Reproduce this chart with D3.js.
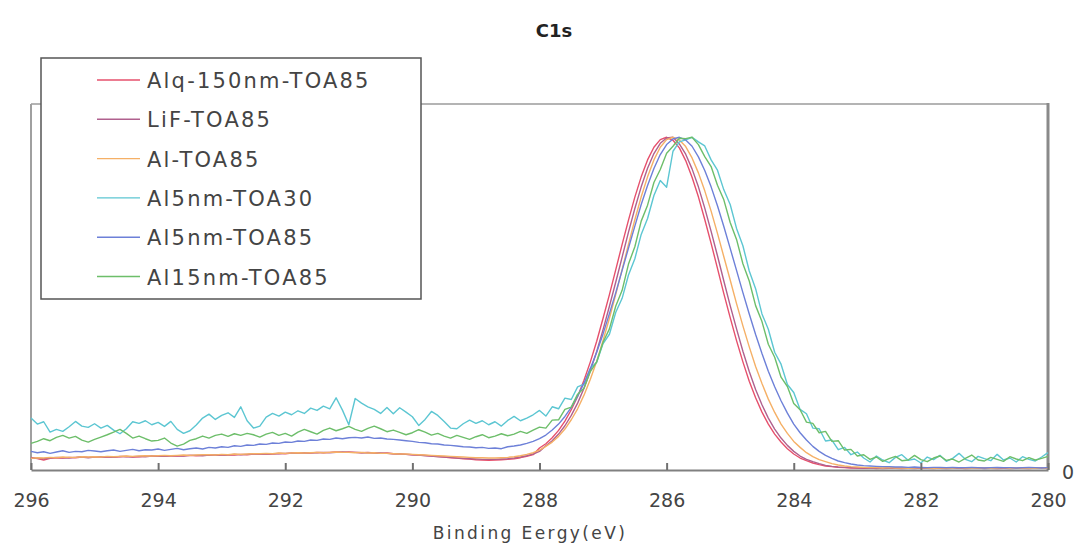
<!DOCTYPE html>
<html>
<head>
<meta charset="utf-8">
<script src="https://cdn.jsdelivr.net/npm/d3@7"></script>
<style>
  body { margin: 0; background: #fff; }
  svg { display: block; }
</style>
</head>
<body>
<svg id="chart"></svg>
<script>
// C1s spectra, intensity normalised to peak = 100, sampled every 0.1 eV from 296 eV down to 280 eV
const energyStart = 296
const energyStep = 0.1
const xTicks = [296, 294, 292, 290, 288, 286, 284, 282, 280]

const seriesNames = ['Alq-150nm-TOA85', 'LiF-TOA85', 'Al-TOA85', 'Al5nm-TOA30', 'Al5nm-TOA85', 'Al15nm-TOA85']
const seriesColors = ['#e6506c', '#b0608e', '#f5b066', '#5cc6d2', '#6d80d8', '#6dbe6a']

const alq150 = [
  3.8, 3.4, 3.0, 3.5, 3.7, 3.6, 3.8, 3.7, 3.9, 3.8,
  3.8, 4.0, 3.9, 3.9, 4.0, 4.1, 3.9, 4.0, 4.1, 4.2,
  4.1, 4.2, 4.3, 4.2, 4.3, 4.4, 4.3, 4.4, 4.5, 4.4,
  4.5, 4.6, 4.5, 4.7, 4.6, 4.8, 4.7, 4.9, 4.8, 5.0,
  4.9, 5.1, 5.0, 5.2, 5.1, 5.3, 5.2, 5.3, 5.4, 5.3,
  5.4, 5.3, 5.2, 5.3, 5.1, 5.0, 5.1, 4.9, 4.8, 4.7,
  4.6, 4.5, 4.4, 4.2, 4.1, 3.9, 3.7, 3.6, 3.4, 3.3,
  3.1, 3.0, 2.9, 3.0, 3.1, 3.2, 3.4, 3.7, 4.1, 4.6,
  6.6, 7.9, 9.7, 11.9, 14.7, 18.1, 22.1, 27.0, 32.5, 38.7,
  45.6, 52.7, 60.2, 67.8, 75.1, 82.0, 88.1, 93.2, 97.0, 99.3,
  100, 99.1, 96.8, 93.0, 88.0, 82.1, 75.3, 68.1, 60.6, 53.0,
  45.8, 38.9, 32.5, 26.7, 21.7, 17.4, 13.8, 10.8, 8.4, 6.4,
  4.8, 3.6, 2.8, 2.1, 1.6, 1.2, 1.0, 0.8, 0.7, 0.6,
  0.6,
  0.5, 0.6, 0.4, 0.5, 0.6, 0.5, 0.4, 0.5, 0.6, 0.5,
  0.5, 0.4, 0.6, 0.5, 0.5, 0.6, 0.4, 0.5, 0.5, 0.6,
  0.5, 0.4, 0.5, 0.6, 0.5, 0.5, 0.4, 0.6, 0.5, 0.5
]

const lif = [
  3.6, 3.5, 3.4, 3.6, 3.8, 3.7, 3.6, 3.8, 3.9, 3.7,
  3.9, 3.9, 4.0, 3.8, 4.1, 4.0, 4.0, 4.1, 4.0, 4.2,
  4.2, 4.1, 4.3, 4.3, 4.2, 4.4, 4.4, 4.3, 4.5, 4.5,
  4.6, 4.5, 4.7, 4.6, 4.7, 4.8, 4.8, 4.8, 4.9, 4.9,
  5.0, 5.0, 5.1, 5.1, 5.2, 5.2, 5.3, 5.2, 5.3, 5.4,
  5.3, 5.3, 5.2, 5.2, 5.1, 5.1, 5.0, 4.9, 4.8, 4.7,
  4.6, 4.5, 4.3, 4.2, 4.0, 3.9, 3.8, 3.6, 3.5, 3.4,
  3.3, 3.2, 3.2, 3.2, 3.3, 3.4, 3.6, 3.9, 4.3, 4.8,
  5.6, 7.3, 8.8, 10.8, 13.3, 16.4, 20.1, 24.6, 29.8, 35.6,
  42.2, 49.2, 56.5, 64.0, 71.5, 78.6, 85.1, 90.7, 95.1, 98.2,
  99.8, 100, 98.0, 94.9, 90.5, 85.1, 78.7, 71.7, 64.4, 56.8,
  49.4, 42.4, 35.7, 29.6, 24.2, 19.6, 15.6, 12.3, 9.6, 7.4,
  5.6, 4.2, 3.2, 2.5, 1.9, 1.4, 1.1, 0.9, 0.8, 0.7,
  0.6,
  0.6, 0.5, 0.6, 0.4, 0.5, 0.6, 0.6, 0.5, 0.4, 0.6,
  0.5, 0.6, 0.5, 0.4, 0.5, 0.6, 0.5, 0.5, 0.6, 0.4,
  0.5, 0.6, 0.5, 0.4, 0.5, 0.6, 0.5, 0.5, 0.6, 0.5
]

const al = [
  3.5, 3.7, 3.6, 3.8, 3.7, 3.9, 3.8, 3.8, 4.0, 3.9,
  4.0, 3.9, 4.1, 4.0, 4.1, 4.2, 4.1, 4.2, 4.3, 4.2,
  4.3, 4.4, 4.3, 4.4, 4.5, 4.4, 4.5, 4.6, 4.6, 4.5,
  4.7, 4.6, 4.8, 4.7, 4.8, 4.9, 4.9, 5.0, 4.9, 5.1,
  5.0, 5.1, 5.2, 5.1, 5.2, 5.3, 5.2, 5.3, 5.4, 5.3,
  5.3, 5.2, 5.3, 5.1, 5.2, 5.0, 5.0, 4.9, 4.8, 4.8,
  4.7, 4.6, 4.5, 4.4, 4.3, 4.2, 4.1, 4.0, 3.9, 3.8,
  3.7, 3.7, 3.6, 3.6, 3.7, 3.8, 4.0, 4.3, 4.7, 5.2,
  6.0, 7.1, 8.4, 10.1, 12.3, 15.1, 18.4, 22.5, 27.3, 32.7,
  38.9, 45.6, 52.8, 60.3, 67.8, 75.2, 82.1, 88.1, 93.2, 97.0,
  99.3, 100, 99.2, 97.2, 93.8, 89.3, 83.9, 77.8, 71.1, 64.1,
  57.1, 50.0, 43.3, 37.0, 31.1, 26.0, 21.3, 17.3, 13.8, 11.0,
  8.6, 6.8, 5.2, 4.0, 3.1, 2.5, 1.9, 1.5, 1.2, 1.0,
  0.9,
  0.8, 0.7, 0.7, 0.6, 0.7, 0.6, 0.6, 0.5, 0.6, 0.7,
  0.6, 0.5, 0.6, 0.6, 0.5, 0.7, 0.6, 0.5, 0.6, 0.6,
  0.5, 0.6, 0.7, 0.5, 0.6, 0.6, 0.5, 0.6, 0.5, 0.6
]

const al5nm30 = [
  15.6, 13.8, 14.5, 11.4, 12.2, 11.6, 13.0, 14.6, 13.2, 12.8,
  13.9, 12.6, 13.4, 12.0, 10.9, 12.4, 14.5, 14.0, 14.8, 13.6,
  14.3, 13.1, 14.6, 12.2, 11.0, 11.8, 13.5, 15.6, 16.8, 15.2,
  16.4, 17.2, 15.8, 19.0, 14.8, 12.6, 13.2, 15.9, 17.0, 16.2,
  17.4, 16.6, 17.8, 17.0, 18.6, 17.9, 19.2, 18.4, 21.7, 18.0,
  13.6, 21.5, 20.1, 19.0, 18.2, 17.0, 18.8, 16.9, 18.7, 17.4,
  16.0, 13.4, 15.2, 17.6, 16.4, 14.6, 12.6, 12.4, 13.9, 15.0,
  14.0, 14.8, 13.6, 14.5, 13.2, 14.9, 16.1, 14.8, 15.6, 16.6,
  17.9, 16.2, 19.0, 18.4, 21.6, 21.2, 25.0, 25.8, 30.6, 32.4,
  38.0, 40.8, 47.4, 51.6, 58.6, 63.5, 70.8, 75.6, 82.5, 87.0,
  85.0, 95.8, 98.6, 99.2, 100, 98.6, 97.4, 93.2, 90.1, 84.2,
  79.8, 72.6, 67.4, 59.8, 54.5, 46.9, 42.3, 35.4, 31.8, 25.7,
  23.3, 18.2, 16.9, 12.6, 12.4, 8.7, 9.0, 6.1, 6.8, 4.6,
  5.4,
  3.6, 2.4, 4.2, 3.0, 2.2, 3.8, 4.6, 2.9, 3.3, 2.1,
  3.9, 3.1, 4.4, 2.6, 3.5, 5.0, 3.2, 2.5, 4.1, 3.4,
  2.8, 4.7, 3.0, 3.6, 2.4, 4.0, 3.2, 2.7, 3.9, 5.2
]

const al5nm85 = [
  5.6, 5.2, 5.5, 5.0, 5.4, 5.8, 5.3, 5.6, 5.5, 5.9,
  5.7, 5.5, 5.8, 6.0, 5.6, 5.9, 6.2, 5.8, 6.1, 6.0,
  6.3, 5.9, 6.2, 6.5, 6.1, 6.4, 6.6, 6.3, 6.8, 6.6,
  7.0, 6.8, 7.3, 7.1, 7.5, 7.4, 7.8, 7.7, 8.1, 8.0,
  8.4, 8.3, 8.7, 8.6, 9.0, 8.9, 9.3, 9.2, 9.6, 9.4,
  9.7, 9.8, 9.6, 9.9, 9.5, 9.6, 9.3, 9.2, 9.0, 8.8,
  8.6, 8.3, 8.2, 7.9, 7.8, 7.5, 7.4, 7.2, 7.0, 6.9,
  6.7, 6.8, 6.5, 6.6, 6.4, 7.0, 7.2, 7.5, 8.0, 8.6,
  9.4, 10.5, 12.0, 13.8, 16.1, 18.8, 22.2, 26.1, 30.5, 35.4,
  40.9, 47.0, 53.3, 60.0, 66.7, 73.3, 79.8, 85.5, 90.6, 94.8,
  97.8, 99.5, 100, 99.2, 97.3, 94.1, 90.0, 85.1, 79.4, 73.2,
  66.6, 60.0, 53.3, 46.9, 40.7, 35.0, 29.7, 25.0, 20.8, 17.1,
  13.8, 11.2, 9.0, 7.1, 5.6, 4.4, 3.5, 2.7, 2.2, 1.8,
  1.5,
  1.3, 1.2, 1.1, 1.0, 1.0, 0.9, 0.9, 0.8, 0.9, 0.8,
  0.7, 0.8, 0.8, 0.7, 0.8, 0.7, 0.7, 0.8, 0.7, 0.6,
  0.7, 0.8, 0.7, 0.7, 0.6, 0.7, 0.8, 0.7, 0.6, 0.7
]

const al15nm85 = [
  8.0, 8.6, 9.4, 8.8, 9.8, 10.4, 9.6, 10.1, 9.0, 8.4,
  9.2, 9.9, 10.6, 11.4, 12.2, 11.0, 9.6, 10.2, 9.4, 8.7,
  8.9, 9.6, 8.1, 7.2, 7.8, 8.9, 9.4, 10.2, 9.6, 10.4,
  10.8, 10.1, 10.9, 10.4, 11.0, 10.6, 9.9, 10.8, 11.3, 10.4,
  11.0, 10.2, 11.4, 12.2, 11.5, 10.8, 11.9, 12.6, 11.8, 12.4,
  13.1, 12.2, 11.6, 12.5, 13.2, 12.4, 11.5, 12.0, 11.3, 10.6,
  11.2, 12.1, 11.4, 10.5, 11.0, 10.2, 9.6, 10.4, 9.8, 9.2,
  10.0, 10.6, 9.7, 10.2, 10.9, 10.3, 10.8, 11.6, 11.0, 12.0,
  12.9, 12.6, 15.0, 15.1, 18.2, 18.9, 22.8, 24.6, 29.6, 32.5,
  38.4, 42.4, 49.3, 54.0, 61.9, 67.1, 74.8, 79.6, 86.4, 90.3,
  95.2, 97.3, 99.7, 99.6, 100, 97.8, 94.2, 91.2, 85.6, 81.2,
  74.4, 69.3, 62.0, 56.8, 49.4, 44.6, 37.8, 33.9, 27.9, 25.1,
  20.0, 18.1, 14.4, 14.0, 11.2, 11.6, 8.6, 8.8, 6.0, 6.2,
  4.2,
  4.6, 3.2, 3.9, 2.6, 3.4, 4.1, 2.8, 3.0, 4.4, 3.1,
  2.5, 3.6, 4.2, 2.9, 3.3, 2.4, 3.5, 4.5, 3.0, 2.7,
  3.8, 3.2, 2.6, 4.0, 3.3, 2.8, 3.7, 3.0, 3.5, 4.1
]

const seriesValues = [alq150, lif, al, al5nm30, al5nm85, al15nm85]

const width = 1079
const height = 545
const plot = { left: 31, right: 1048, top: 104, bottom: 470 }

const svg = d3.select('#chart')
    .attr('width', width)
    .attr('height', height)
    .style('font-family', '"DejaVu Sans", sans-serif')

const x = d3.scaleLinear()
    .domain([296, 280])
    .range([plot.left, plot.right])

const y = d3.scaleLinear()
    .domain([0, 110])
    .range([plot.bottom, plot.top])

const series = seriesNames.map((name, i) => ({
    name: name,
    color: seriesColors[i],
    points: seriesValues[i].map((v, j) => ({ e: energyStart - j * energyStep, v: v }))
}))

// title
svg.append('text')
    .attr('x', 554)
    .attr('y', 37)
    .attr('text-anchor', 'middle')
    .style('font-size', '18px')
    .style('font-weight', 'bold')
    .style('fill', '#222')
    .text('C1s')

// frame: top, left, right
svg.append('line')
    .attr('x1', plot.left).attr('x2', plot.right)
    .attr('y1', plot.top).attr('y2', plot.top)
    .attr('stroke', '#b4b4b4').attr('stroke-width', 2)
svg.append('line')
    .attr('x1', plot.left).attr('x2', plot.left)
    .attr('y1', plot.top).attr('y2', plot.bottom)
    .attr('stroke', '#a0a0a0').attr('stroke-width', 2)
svg.append('line')
    .attr('x1', plot.right).attr('x2', plot.right)
    .attr('y1', plot.top - 1).attr('y2', plot.bottom)
    .attr('stroke', '#8a8a8a').attr('stroke-width', 3)

const line = d3.line()
    .x(d => x(d.e))
    .y(d => y(d.v))

svg.append('g')
    .selectAll('path')
    .data(series)
    .join('path')
    .attr('d', d => line(d.points))
    .attr('fill', 'none')
    .attr('stroke', d => d.color)
    .attr('stroke-width', 1.4)
    .attr('stroke-linejoin', 'round')

// x axis, ticks pointing up into the plot
const xAxis = d3.axisBottom(x)
    .tickValues(xTicks)
    .tickSizeInner(-7)
    .tickSizeOuter(0)
    .tickFormat(d3.format('d'))

const axisG = svg.append('g')
    .attr('transform', `translate(0,${plot.bottom})`)
    .call(xAxis)

axisG.select('.domain')
    .attr('stroke', '#808080')
    .attr('stroke-width', 2)
axisG.selectAll('.tick line')
    .attr('stroke', '#707070')
    .attr('stroke-width', 2)
axisG.selectAll('.tick text')
    .attr('y', 37)
    .attr('dy', 0)
    .style('font-family', '"DejaVu Sans", sans-serif')
    .style('font-size', '19px')
    .style('fill', '#444')

svg.append('text')
    .attr('x', 1062)
    .attr('y', 479)
    .style('font-size', '19px')
    .style('fill', '#444')
    .text('0')

svg.append('text')
    .attr('x', 530)
    .attr('y', 539)
    .attr('text-anchor', 'middle')
    .style('font-size', '17px')
    .style('letter-spacing', '2.4px')
    .style('fill', '#444')
    .text('Binding Eergy(eV)')

// legend
const legend = svg.append('g')
legend.append('rect')
    .attr('x', 41)
    .attr('y', 58)
    .attr('width', 380)
    .attr('height', 241)
    .attr('fill', '#fff')
    .attr('stroke', '#555')
    .attr('stroke-width', 1.5)

const rows = legend.selectAll('g.row')
    .data(series)
    .join('g')
    .attr('class', 'row')
    .attr('transform', (d, i) => `translate(0,${80 + i * 39.3})`)

rows.append('line')
    .attr('x1', 97).attr('x2', 140)
    .attr('y1', 0).attr('y2', 0)
    .attr('stroke', d => d.color)
    .attr('stroke-width', 1.4)

rows.append('text')
    .attr('x', 147)
    .attr('y', 8)
    .style('font-size', '21px')
    .style('letter-spacing', '2.2px')
    .style('fill', '#444')
    .text(d => d.name)
</script>
</body>
</html>
